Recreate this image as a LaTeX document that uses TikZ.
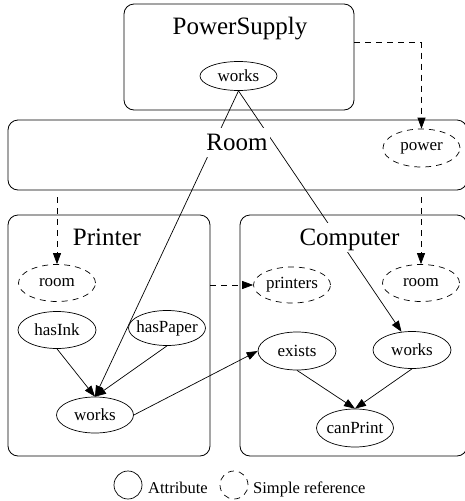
\documentclass[tikz,border=0pt]{standalone}
\usepackage{fontspec}
\setmainfont{Liberation Serif}
\usetikzlibrary{shapes.geometric,arrows.meta,calc}
\begin{document}
\begin{tikzpicture}[x=1pt,y=-1pt,
  box/.style={draw, rounded corners=10pt, line width=0.8pt, inner sep=0pt},
  attr/.style={draw, ellipse, inner sep=0pt, line width=0.7pt},
  sref/.style={attr, dash pattern=on 6pt off 5pt},
  every label/.style={font=\fontsize{17}{20}\selectfont, inner sep=0pt},
  clabel/.style={fill=white, inner sep=2pt, anchor=base, text height=20pt, text depth=5pt, font=\fontsize{25}{30}\selectfont},
  edge/.style={-{Triangle[length=11pt,width=8pt]}, line width=0.7pt},
  dref/.style={edge, dash pattern=on 6pt off 5pt},
  legtext/.style={anchor=base west, inner sep=0pt, font=\fontsize{16.5}{20}\selectfont},
]
\useasboundingbox (0,0) rectangle (465,501);
\clip (0,0) rectangle (465,501);

% clusters
\node[box, minimum width=230pt, minimum height=106pt] (psbox) at (239,57) {};
\node[box, minimum width=459pt, minimum height=70pt] (roombox) at (237.5,155) {};
\node[box, minimum width=202pt, minimum height=241pt] (pbox) at (109,335.5) {};
\node[box, minimum width=227pt, minimum height=241pt] (cbox) at (353.5,335.5) {};

% attributes and references
\node[attr, minimum width=77pt, minimum height=29pt, label={center:works}] (psworks) at (238.5,76) {};
\node[sref, minimum width=77pt, minimum height=38pt, label={center:power}] (power) at (421.5,148) {};
\node[sref, minimum width=77pt, minimum height=37pt, label={center:room}] (proom) at (57,283) {};
\node[attr, minimum width=78pt, minimum height=37pt, label={center:hasInk}] (hasink) at (57,330) {};
\node[attr, minimum width=77pt, minimum height=35pt, label={center:hasPaper}] (haspaper) at (167,328) {};
\node[attr, minimum width=77pt, minimum height=36pt, label={center:works}] (pworks) at (95,415) {};
\node[sref, minimum width=77pt, minimum height=36pt, label={center:printers}] (printers) at (292,285) {};
\node[sref, minimum width=77pt, minimum height=37pt, label={center:room}] (croom) at (421,283) {};
\node[attr, minimum width=78pt, minimum height=38pt, label={center:exists}] (exists) at (297,351) {};
\node[attr, minimum width=78pt, minimum height=37pt, label={center:works}] (cworks) at (412,350) {};
\node[attr, minimum width=77pt, minimum height=38pt, label={center:canPrint}] (canprint) at (355,428) {};

% edges
\draw[edge] (psworks.south) -- (pworks.north);
\draw[edge] (psworks.south) -- (cworks.120);
\draw[edge] (hasink.south) -- (pworks.north);
\draw[edge] (haspaper.south) -- (pworks.north);
\draw[edge] (pworks.east) -- (exists.west);
\draw[edge] (exists.south) -- (canprint.north);
\draw[edge] (cworks.south) -- (canprint.north);

% references
\draw[dref] ($(psbox.north east)+(0,39)$) -| (power.north);
\draw[dref] ($(proom.north |- roombox.south)+(0,7)$) -- (proom.north);
\draw[dref] ($(croom.north |- roombox.south)+(0,7)$) -- (croom.north);
\draw[dref] (pbox.east |- printers.west) -- (printers.west);

% cluster labels
\node[clabel] (pslabel) at (240,34) {PowerSupply};
\node[clabel] (roomlabel) at (237,150) {Room};
\node[clabel] (plabel) at (107,245) {Printer};
\node[clabel] (clabel) at (349.5,245) {Computer};

% legend
\node[draw, circle, minimum size=28pt, inner sep=0pt, line width=0.7pt] (legattr) at (128,485) {};
\node[legtext] (legattrtext) at (148,493) {Attribute};
\node[draw, circle, minimum size=28pt, inner sep=0pt, line width=0.7pt, dash pattern=on 6pt off 5pt] (legref) at (234,485) {};
\node[legtext] (legreftext) at (253,493) {Simple reference};
\end{tikzpicture}
\end{document}
